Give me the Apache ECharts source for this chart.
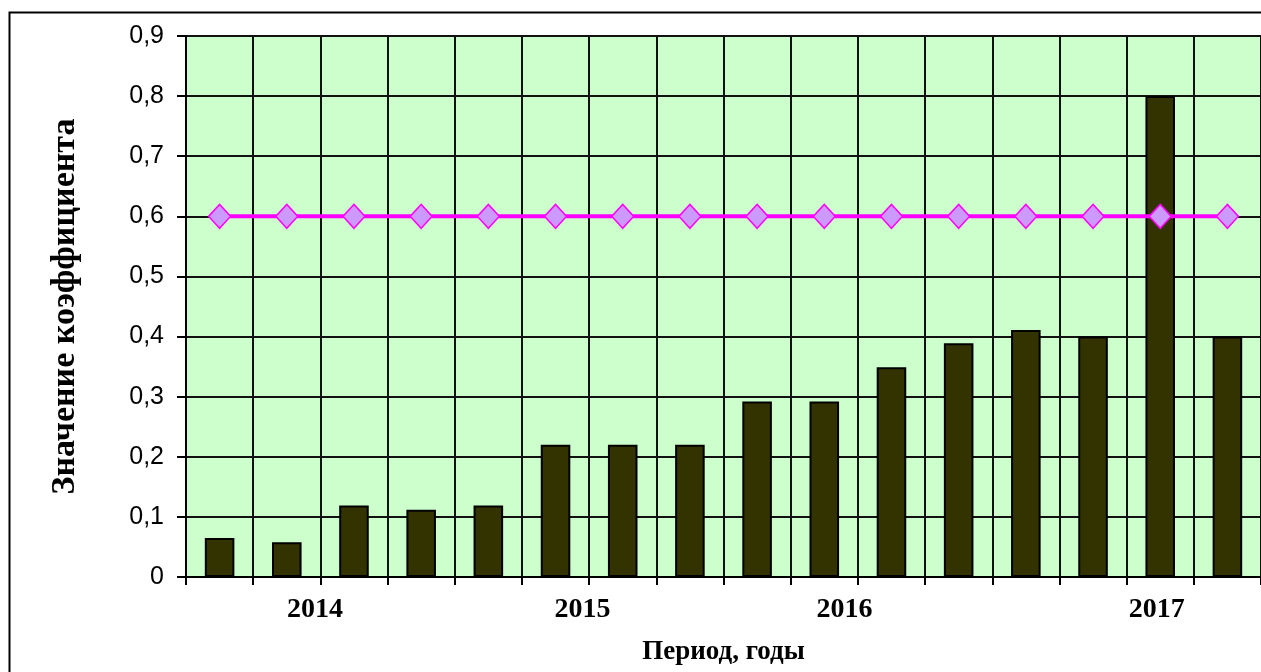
<!DOCTYPE html>
<html>
<head>
<meta charset="utf-8">
<script src="https://cdn.jsdelivr.net/npm/echarts@6/dist/echarts.min.js"></script>
<style>
html,body{margin:0;padding:0;background:#fff;}
#chart{width:1261px;height:672px;}
</style>
</head>
<body>
<div id="chart"></div>
<script>
// 16 periods (quarters 2014-2017)
const periods = ['1','2','3','4','5','6','7','8','9','10','11','12','13','14','15','16'];
const coefValues = [0.065, 0.058, 0.119, 0.112, 0.119, 0.22, 0.22, 0.22, 0.292, 0.292, 0.349, 0.389, 0.411, 0.4, 0.8, 0.4];
const normValues = [0.6, 0.6, 0.6, 0.6, 0.6, 0.6, 0.6, 0.6, 0.6, 0.6, 0.6, 0.6, 0.6, 0.6, 0.6, 0.6];
const yearLabels = ['2014', '2015', '2016', '2017'];
const yearLabelAt = [1.92, 5.9, 9.8, 14.45];
const yTitle = 'Значение коэффициента';
const xTitle = 'Период, годы';

const chart = echarts.init(document.getElementById('chart'));
const yearMap = {};
yearLabelAt.forEach((v, i) => { yearMap[v.toFixed(2)] = yearLabels[i]; });

chart.setOption({
  backgroundColor: '#fff',
  animation: false,
  graphic: [{
    type: 'rect', silent: true, z: -10,
    shape: { x: 9.5, y: 12.5, width: 1300, height: 700 },
    style: { fill: '#fff', stroke: '#000', lineWidth: 2 }
  }],
  grid: {
    left: 186, top: 36, right: 0, bottom: 95,
    outerBoundsMode: 'none',
    containLabel: false,
    show: true, backgroundColor: '#ccffcc', borderWidth: 0
  },
  xAxis: [{
    type: 'category',
    data: periods,
    boundaryGap: true,
    axisLine: { show: true, lineStyle: { color: '#000', width: 2 } },
    axisTick: { show: true, length: 8, lineStyle: { color: '#000', width: 2 } },
    axisLabel: { show: false },
    splitLine: { show: true, lineStyle: { color: '#111', width: 2 } },
    name: xTitle,
    nameLocation: 'middle',
    nameGap: 62,
    nameTextStyle: { fontFamily: 'Liberation Serif', fontWeight: 'bold', fontSize: 27, color: '#000' }
  }, {
    type: 'value',
    min: 0, max: 16,
    position: 'bottom',
    axisLine: { show: false },
    axisTick: { show: false },
    splitLine: { show: false },
    axisLabel: {
      show: true,
      customValues: yearLabelAt,
      formatter: v => yearMap[Number(v).toFixed(2)] || '',
      margin: 19,
      fontFamily: 'Liberation Serif', fontWeight: 'bold', fontSize: 28, color: '#000'
    }
  }],
  yAxis: {
    type: 'value',
    min: 0, max: 0.9, interval: 0.1,
    axisLine: { show: true, lineStyle: { color: '#000', width: 2 } },
    axisTick: { show: true, length: 9, lineStyle: { color: '#000', width: 2 } },
    axisLabel: {
      margin: 22,
      formatter: v => (Math.round(v * 10) / 10).toString().replace('.', ','),
      fontFamily: 'Liberation Sans', fontSize: 25, color: '#000'
    },
    splitLine: { show: true, lineStyle: { color: '#111', width: 2 } },
    name: yTitle,
    nameLocation: 'middle',
    nameGap: 104,
    nameTextStyle: { fontFamily: 'Liberation Serif', fontWeight: 'bold', fontSize: 34, color: '#000' }
  },
  series: [{
    type: 'bar',
    xAxisIndex: 0,
    data: coefValues,
    barWidth: '44%',
    itemStyle: { color: '#333300', borderColor: '#000', borderWidth: 2 },
    z: 2
  }, {
    type: 'line',
    xAxisIndex: 0,
    data: normValues,
    symbol: 'diamond',
    symbolSize: [22, 24],
    lineStyle: { color: '#ff00ff', width: 4 },
    itemStyle: { color: '#cc99ff', borderColor: '#ff00ff', borderWidth: 1.5 },
    z: 3
  }]
});
</script>
</body>
</html>
